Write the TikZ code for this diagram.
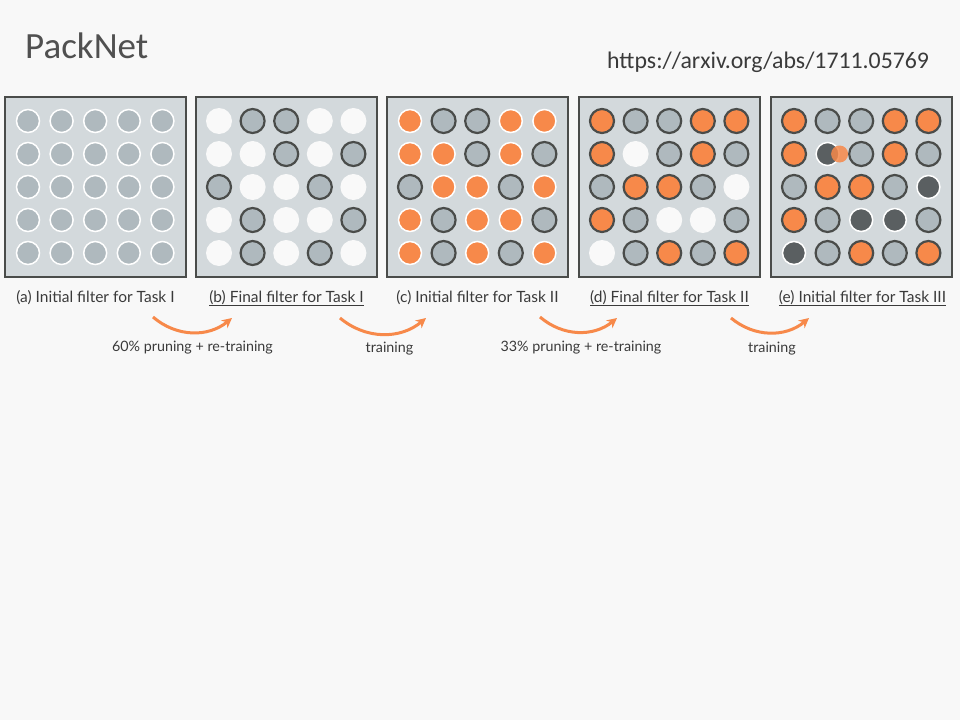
\documentclass[tikz,border=0pt]{standalone}
\usepackage{fontspec}
\setmainfont{Carlito}
\newfontfamily\capfont{Lato}
\usetikzlibrary{arrows.meta, positioning}
\definecolor{packbg}{HTML}{F8F8F8}
\definecolor{packpanel}{HTML}{D3D9DC}
\definecolor{packgray}{HTML}{AFB9BE}
\definecolor{packdark}{HTML}{4A4C4A}
\definecolor{packorange}{HTML}{F7894A}
\definecolor{packwhite}{HTML}{F9F9F9}
\definecolor{packdead}{HTML}{5A5F61}
\definecolor{packtext}{HTML}{3A3A3A}
\definecolor{packtitle}{HTML}{505050}

\begin{document}
\begin{tikzpicture}[
    x=1pt, y=-1pt,
    panel/.style={
        rectangle,
        draw=packdark,
        line width=1.2pt,
        fill=packpanel,
        minimum width=181pt,
        minimum height=180pt,
        inner sep=0pt
    },
    cell/.style={circle, inner sep=0pt, minimum size=23pt},
    cell-i/.style={cell, fill=packgray, draw=white, line width=1.5pt},
    cell-k/.style={cell, fill=packgray, draw=packdark, line width=2.2pt, minimum size=24pt},
    cell-f/.style={cell, fill=packwhite, minimum size=26pt},
    cell-n/.style={cell, fill=packorange, draw=white, line width=1.5pt},
    cell-t/.style={cell, fill=packorange, draw=packdark, line width=2.2pt, minimum size=24pt},
    cell-x/.style={cell, fill=packdead, draw=white, line width=1.5pt},
    caption/.style={
        font=\capfont\fontsize{15.5}{17}\selectfont,
        text=packtext,
        anchor=base,
        inner sep=0pt
    },
    steplabel/.style={
        font=\capfont\fontsize{14.3}{16}\selectfont,
        text=packtext,
        anchor=base,
        inner sep=0pt
    },
    flow/.style={
        -{Stealth[length=10pt, width=10pt]},
        line width=3pt,
        packorange
    }
]

% Background
\fill[packbg] (0,0) rectangle (960,720);

% Title
\node[anchor=base west, inner sep=0pt, text=packtitle, font=\fontsize{37}{40}\selectfont] (title) at (25,58) {PackNet};
\node[anchor=base west, inner sep=0pt, text=packtext, font=\fontsize{23.8}{26}\selectfont] (link) at (607,68) {https://arxiv.org/abs/1711.05769};

% Panel (a)
\node[panel] (a) at (95.5,187) {};
\foreach \s [count=\i from 0] in {i,i,i,i,i, i,i,i,i,i, i,i,i,i,i, i,i,i,i,i, i,i,i,i,i} {
    \pgfmathtruncatemacro\col{mod(\i,5)}
    \pgfmathtruncatemacro\row{floor(\i/5)}
    \node[cell-\s] (a-\i) at (28+\col*33.6, 121+\row*33) {};
}

% Panel (b)
\node[panel] (b) at (286.5,187) {};
\foreach \s [count=\i from 0] in {f,k,k,f,f, f,f,k,f,k, k,f,f,k,f, f,k,f,f,k, f,k,f,k,f} {
    \pgfmathtruncatemacro\col{mod(\i,5)}
    \pgfmathtruncatemacro\row{floor(\i/5)}
    \node[cell-\s] (b-\i) at (219+\col*33.6, 121+\row*33) {};
}

% Panel (c)
\node[panel] (c) at (477.5,187) {};
\foreach \s [count=\i from 0] in {n,k,k,n,n, n,n,k,n,k, k,n,n,k,n, n,k,n,n,k, n,k,n,k,n} {
    \pgfmathtruncatemacro\col{mod(\i,5)}
    \pgfmathtruncatemacro\row{floor(\i/5)}
    \node[cell-\s] (c-\i) at (410+\col*33.6, 121+\row*33) {};
}

% Panel (d)
\node[panel] (d) at (669.5,187) {};
\foreach \s [count=\i from 0] in {t,k,k,t,t, t,f,k,t,k, k,t,t,k,f, t,k,f,f,k, f,k,t,k,t} {
    \pgfmathtruncatemacro\col{mod(\i,5)}
    \pgfmathtruncatemacro\row{floor(\i/5)}
    \node[cell-\s] (d-\i) at (602+\col*33.6, 121+\row*33) {};
}

% Panel (e)
\node[panel] (e) at (861.5,187) {};
\foreach \s [count=\i from 0] in {t,k,k,t,t, t,x,k,t,k, k,t,t,k,x, t,k,x,x,k, x,k,t,k,t} {
    \pgfmathtruncatemacro\col{mod(\i,5)}
    \pgfmathtruncatemacro\row{floor(\i/5)}
    \node[cell-\s] (e-\i) at (794+\col*33.6, 121+\row*33) {};
}
\node[circle, fill=packorange, opacity=0.85, inner sep=0pt, minimum size=17pt] (blob) at ([xshift=12pt]e-6) {};

% Captions
\node[caption] (capa) at (95.5,302) {(a) Initial filter for Task I};
\node[caption] (capb) at (286.5,302) {\underline{(b) Final filter for Task I}};
\node[caption] (capc) at (477.5,302) {(c) Initial filter for Task II};
\node[caption] (capd) at (669.5,302) {\underline{(d) Final filter for Task II}};
\node[caption] (cape) at (862.5,302) {\underline{(e) Initial filter for Task III}};

% Steps
\coordinate (s1a) at (153,317);
\coordinate (s1b) at (232,318);
\coordinate (s2a) at (340,318);
\coordinate (s2b) at (426,318);
\coordinate (s3a) at (540,317);
\coordinate (s3b) at (617,318);
\coordinate (s4a) at (731,318);
\coordinate (s4b) at (809,318);

\draw[flow] (s1a) to[bend right=40] (s1b);
\draw[flow] (s2a) to[bend right=40] (s2b);
\draw[flow] (s3a) to[bend right=40] (s3b);
\draw[flow] (s4a) to[bend right=40] (s4b);

\node[steplabel] (lab1) at (192.5,351) {60\% pruning + re-training};
\node[steplabel] (lab2) at (389.5,352) {training};
\node[steplabel] (lab3) at (581,351) {33\% pruning + re-training};
\node[steplabel] (lab4) at (772,352) {training};

\end{tikzpicture}
\end{document}
